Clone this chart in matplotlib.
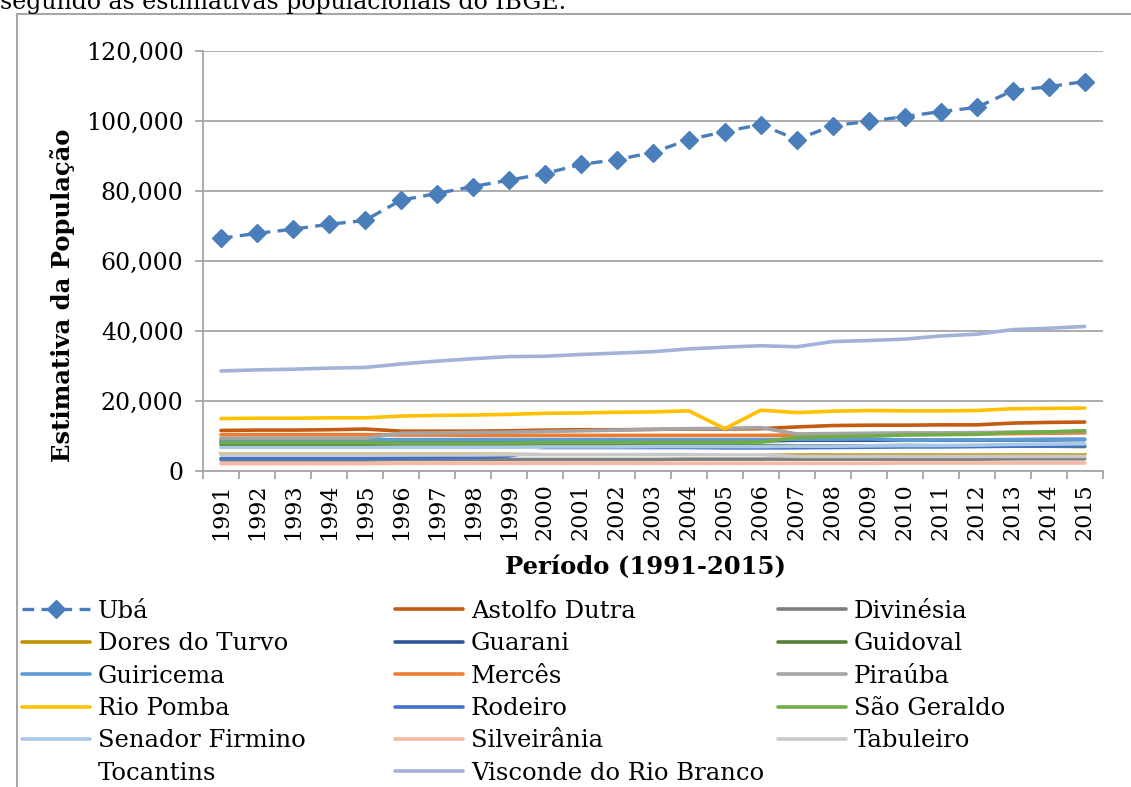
import matplotlib
matplotlib.use("Agg")
import matplotlib.pyplot as plt
from matplotlib.lines import Line2D
from matplotlib.ticker import FuncFormatter, FixedLocator

plt.rcParams['font.family'] = ['DejaVu Serif']

# ------------------------------------------------------------
# DATA (estimativas populacionais IBGE)
# ------------------------------------------------------------
years = [str(y) for y in range(1991, 2016)]

uba = [66400, 67800, 69000, 70400, 71500, 77300, 79200, 81200, 83000, 84900,
       87500, 88900, 90900, 94600, 96900, 98900, 94600, 98600, 99800, 101200,
       102600, 103800, 108600, 109700, 111200]
astolfo_dutra = [11500, 11600, 11600, 11700, 11900, 11300, 11300, 11300, 11400, 11600,
                 11700, 11700, 11800, 11900, 11900, 12000, 12500, 12900, 13000, 13000,
                 13100, 13100, 13600, 13800, 13900]
divinesia = [3100, 3100, 3100, 3100, 3100, 3200, 3200, 3200, 3200, 3200,
             3200, 3200, 3200, 3300, 3300, 3300, 3300, 3300, 3300, 3300,
             3300, 3300, 3400, 3400, 3400]
dores_do_turvo = [5200, 5200, 5100, 5100, 5100, 5000, 5000, 4900, 4900, 4900,
                  4900, 4800, 4800, 4800, 4800, 4800, 4700, 4700, 4700, 4700,
                  4700, 4700, 4800, 4800, 4800]
guarani = [8200, 8200, 8200, 8200, 8200, 8400, 8400, 8400, 8400, 8500,
           8500, 8500, 8500, 8500, 8500, 8500, 8700, 8700, 8700, 8700,
           8700, 8700, 8800, 8800, 8900]
guidoval = [7500, 7500, 7400, 7400, 7400, 7300, 7300, 7300, 7200, 7200,
            7200, 7200, 7200, 7200, 7200, 7200, 7100, 7100, 7100, 7200,
            7100, 7100, 7000, 7000, 6900]
guiricema = [8800, 8800, 8800, 8800, 8800, 8900, 8900, 8900, 8900, 8900,
             8900, 8900, 8900, 8900, 8900, 8900, 9000, 9000, 9100, 8700,
             8800, 8800, 8900, 9000, 9000]
merces = [10300, 10300, 10300, 10300, 10300, 10200, 10200, 10100, 10100, 10100,
          10100, 10100, 10100, 10100, 10100, 10100, 10200, 10300, 10300, 10400,
          10400, 10500, 10600, 10700, 10800]
pirauba = [9300, 9300, 9300, 9300, 9300, 10700, 10800, 10900, 11000, 11200,
           11400, 11600, 11800, 12000, 12100, 12300, 10500, 10600, 10700, 10800,
           10800, 10900, 11000, 11100, 11200]
rio_pomba = [14900, 15000, 15000, 15100, 15100, 15600, 15800, 15900, 16100, 16400,
             16500, 16700, 16800, 17100, 12000, 17300, 16600, 17000, 17200, 17100,
             17100, 17200, 17700, 17800, 17900]
rodeiro = [3500, 3500, 3500, 3500, 3500, 3600, 3700, 3800, 4200, 6000,
           6100, 6100, 6200, 6200, 6300, 6300, 6500, 6600, 6700, 6800,
           6800, 6900, 7000, 7000, 7100]
sao_geraldo = [8000, 8000, 8000, 8000, 8000, 7900, 7900, 7900, 7900, 8000,
               8000, 8000, 8100, 8100, 8100, 8200, 9500, 9700, 9900, 10200,
               10300, 10400, 10900, 11100, 11400]
senador_firmino = [6600, 6600, 6600, 6600, 6600, 6700, 6700, 6700, 6700, 6800,
                   6800, 6800, 6900, 6900, 6900, 6900, 7000, 7000, 7100, 7200,
                   7200, 7300, 7500, 7600, 7700]
silveirania = [2000, 2000, 2000, 2000, 2000, 2100, 2100, 2100, 2100, 2100,
               2100, 2100, 2100, 2100, 2100, 2100, 2100, 2100, 2100, 2200,
               2200, 2200, 2200, 2200, 2200]
tabuleiro = [4500, 4500, 4500, 4500, 4500, 4500, 4500, 4500, 4600, 4600,
             4600, 4600, 4600, 4600, 4600, 4600, 4100, 4100, 4100, 4100,
             4100, 4100, 4100, 4100, 4100]
tocantins = [5700, 5700, 5700, 5700, 5700, 5700, 5700, 5700, 5700, 5600,
             5600, 5600, 5600, 5600, 5500, 5500, 5500, 5500, 5500, 5500,
             5500, 5500, 5500, 5500, 5500]
visconde = [28500, 28800, 29000, 29300, 29500, 30500, 31300, 32000, 32600, 32700,
            33200, 33600, 34000, 34800, 35300, 35700, 35400, 36900, 37200, 37600,
            38500, 39000, 40300, 40700, 41200]

names = ["Astolfo Dutra", "Divinésia", "Dores do Turvo", "Guarani", "Guidoval",
         "Guiricema", "Mercês", "Piraúba", "Rio Pomba", "Rodeiro", "São Geraldo",
         "Senador Firmino", "Silveirânia", "Tabuleiro", "Tocantins",
         "Visconde do Rio Branco"]
series = [astolfo_dutra, divinesia, dores_do_turvo, guarani, guidoval, guiricema,
          merces, pirauba, rio_pomba, rodeiro, sao_geraldo, senador_firmino,
          silveirania, tabuleiro, tocantins, visconde]
colors = ["#C55A11", "#7F7F7F", "#BF9000", "#2F5597", "#548235", "#5B9BD5",
          "#ED7D31", "#A5A5A5", "#FFC000", "#4472C4", "#70AD47", "#A9C8E8",
          "#F4B9A0", "#C9C9C9", "#FFFFFF", "#A4B2DA"]

# ------------------------------------------------------------
# FIGURE
# ------------------------------------------------------------
W, H = 1131, 787
fig = plt.figure(figsize=(W / 100, H / 100), dpi=100)

# moldura (recortada) do quadro
fig.add_artist(Line2D([17 / W, 17 / W], [0, 1 - 14 / H], color="#A6A6A6", lw=1.5))
fig.add_artist(Line2D([17 / W, 1], [1 - 14 / H, 1 - 14 / H], color="#A6A6A6", lw=1.5))
fig.text(0, 1 - 9 / H, "segundo as estimativas populacionais do IBGE.",
         fontsize=17, va="baseline", ha="left")

x0, x1, y0, y1 = 203, 1102.7, 50.7, 470.7
ax = fig.add_axes([x0 / W, 1 - y1 / H, (x1 - x0) / W, (y1 - y0) / H])

x = list(range(len(years)))
handles = []
h, = ax.plot(x, uba, color="#4A7EBB", lw=2.4, dashes=(3.5, 2.2),
             marker="D", ms=9, mec="#4A7EBB", mfc="#4A7EBB", zorder=5, label="Ubá")
handles.append(h)
for name, vals, c in zip(names, series, colors):
    h, = ax.plot(x, vals, color=c, lw=2.6, label=name, solid_capstyle="round")
    handles.append(h)

ax.set_xlim(-0.5, len(years) - 0.5)
ax.set_ylim(0, 120000)
ax.set_yticks(range(0, 120001, 20000))
ax.yaxis.set_major_formatter(FuncFormatter(lambda v, p: f"{int(v):,}"))
ax.grid(axis="y", color="#A6A6A6", lw=1.3)
ax.set_axisbelow(True)

ax.set_xticks(x)
ax.set_xticklabels(years, rotation=90)
ax.xaxis.set_minor_locator(FixedLocator([i - 0.5 for i in range(len(years) + 1)]))
ax.tick_params(axis="x", which="major", length=0, pad=9, labelsize=16)
ax.tick_params(axis="x", which="minor", length=6, width=1.3, color="#A6A6A6")
ax.tick_params(axis="y", length=6, width=1.3, color="#A6A6A6", labelsize=17, pad=8)

for s in ["top", "right"]:
    ax.spines[s].set_visible(False)
for s in ["left", "bottom"]:
    ax.spines[s].set_color("#A6A6A6")
    ax.spines[s].set_linewidth(1.3)

fig.text(63 / W, 1 - 295 / H, "Estimativa da População", rotation=90,
         fontsize=17.5, fontweight="bold", ha="center", va="center")
fig.text(645 / W, 1 - 567 / H, "Período (1991-2015)",
         fontsize=17.5, fontweight="bold", ha="center", va="center")

# legenda em 3 colunas, preenchida por linha
col_x = [22, 395, 778]
for c in range(3):
    hs = handles[c::3]
    fig.legend(handles=hs, labels=[hh.get_label() for hh in hs],
               loc="upper left", bbox_to_anchor=(col_x[c] / W, 1 - 600 / H),
               frameon=False, fontsize=17.5, handlelength=2.8, handletextpad=0.33,
               labelspacing=0.385, borderpad=0, borderaxespad=0, ncol=1)

fig.savefig("out.png", dpi=100)
